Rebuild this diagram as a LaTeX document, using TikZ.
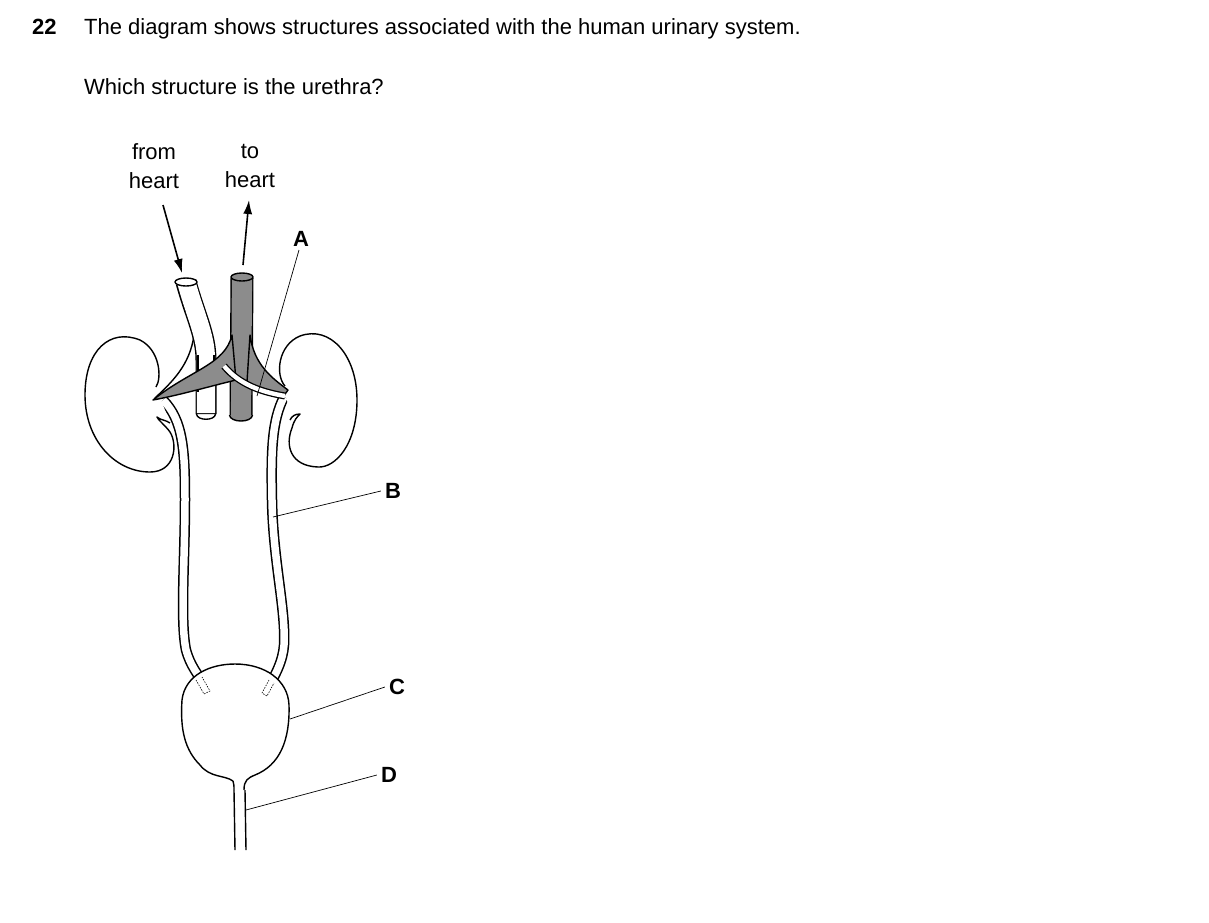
\documentclass[tikz,border=0pt]{standalone}
\usepackage{fontspec}
\setmainfont{Liberation Sans}
\usetikzlibrary{arrows.meta}
\begin{document}
\begin{tikzpicture}[x=1pt,y=-1pt,line join=round,
  txt/.style={font=\fontsize{22}{29}\selectfont, inner sep=0pt},
  lab/.style={font=\bfseries\fontsize{22}{26}\selectfont, inner sep=0pt},
  ol/.style={line width=1.4pt},
  lead/.style={line width=0.7pt},
  arr/.style={line width=1.6pt,-{Latex[length=14pt,width=9pt]}}]
\useasboundingbox (0,0) rectangle (1209,922);
\definecolor{vg}{gray}{0.55}
% texts
\node[txt,font=\bfseries\fontsize{22}{26}\selectfont,anchor=base west] (num) at (32,34) {22};
\node[txt,anchor=base west] (q1) at (84,34) {The diagram shows structures associated with the human urinary system.};
\node[txt,anchor=base west] (q2) at (84,94) {Which structure is the urethra?};
\node[txt,align=center] (fh) at (154,166) {from\\heart};
\node[txt,align=center] (th) at (250,166) {to\\heart};
\node[lab] (A) at (301,239) {A};
\node[lab] (B) at (393,491) {B};
\node[lab] (C) at (397,687) {C};
\node[lab] (D) at (389,775) {D};
% ureters
\foreach \p in {
  {(163,400) .. controls (183,420) and (185,450) .. (185,500) .. controls (185,560) and (180,620) .. (186,650) .. controls (190,665) and (198,675) .. (205,685)},
  {(284,397) .. controls (272,420) and (271,450) .. (272,500) .. controls (273,560) and (286,610) .. (284,645) .. controls (283,660) and (276,675) .. (266,690)}}{
  \draw[line width=10.5pt] \p;
  \draw[line width=7.5pt,white] \p;}
% kidneys
\draw[ol,fill=white] (156,387) .. controls (162,378) and (160,350) .. (140,340) .. controls (110,328) and (85,350) .. (85,395) .. controls (85,440) and (115,472) .. (150,472) .. controls (175,472) and (178,445) .. (170,432) .. controls (165,425) and (158,420) .. (157,417) .. controls (160,420) and (166,420) .. (170,423);
\draw[ol,fill=white] (285,386) .. controls (275,375) and (278,345) .. (300,336) .. controls (330,325) and (357,355) .. (357,400) .. controls (357,445) and (335,468) .. (318,467) .. controls (290,466) and (285,445) .. (292,428) .. controls (294,420) and (297,417) .. (300,414) .. controls (295,414) and (292,416) .. (290,420);
% artery left branch
\draw[ol,fill=white] (194,335) .. controls (190,365) and (172,382) .. (155,398) .. controls (180,390) and (200,380) .. (212,362) -- cycle;
% artery trunk
\draw[line width=21pt] (186,282) .. controls (195,315) and (206,335) .. (206,360) -- (206,414);
\draw[line width=18.2pt,white] (186,281) .. controls (195,315) and (206,335) .. (206,360) -- (206,413);
\draw[ol,fill=white] (186,282) ellipse (11 and 4);
\draw[ol] (196.5,414) .. controls (197,421) and (215,421) .. (215.5,414);
\draw[line width=1.2pt] (198,355) -- (198,392);
\draw[line width=1.2pt] (214,355) -- (214,378);
% vein trunk
\draw[line width=23pt] (242,278) -- (241,416);
\draw[line width=20.2pt,vg] (242,277) -- (241,415);
\draw[ol,fill=vg] (242,277) ellipse (11 and 4);
\draw[ol,fill=vg] (229.5,415) .. controls (230,423) and (252,423) .. (252.5,415);
% vein branches
\draw[ol,fill=vg] (232,335) .. controls (225,365) and (190,370) .. (153,400) .. controls (180,395) and (215,385) .. (236,380) -- cycle;
\draw[ol,fill=vg] (250,335) .. controls (254,365) and (272,378) .. (288,390) -- (283,397) .. controls (270,393) and (258,388) .. (247,382) -- cycle;
% artery right branch band
\draw[line width=7pt] (224,366) .. controls (240,385) and (262,392) .. (285,396);
\draw[line width=4.4pt,white] (224,366) .. controls (240,385) and (262,392) .. (285,396);
% urethra + bladder
\draw[ol] (234,790) -- (235,850) (245,790) -- (246,850);
\draw[ol,fill=white] (233,781) .. controls (225,775) and (210,778) .. (200,765) .. controls (185,750) and (180,730) .. (182,700) .. controls (185,675) and (210,664) .. (235,664) .. controls (265,664) and (288,680) .. (289,705) .. controls (290,740) and (280,765) .. (255,775) .. controls (248,778) and (244,780) .. (244,790);
\draw[white,line width=2pt] (235,784) -- (243,784);
\draw[ol] (233,781) .. controls (234,784) and (234,786) .. (234,790);
\draw[dashed,line width=0.6pt,dash pattern=on 1.5pt off 1.2pt] (196,680) -- (204,694) -- (210,691) -- (202,677);
\draw[dashed,line width=0.6pt,dash pattern=on 1.5pt off 1.2pt] (269,680) -- (262,693) -- (267,696) -- (274,683);
% arrows
\coordinate (a1s) at (163,205); \coordinate (a1e) at (182,273);
\coordinate (a2s) at (243,265); \coordinate (a2e) at (249,200);
\draw[arr] (a1s) -- (a1e);
\draw[arr] (a2s) -- (a2e);
% leader lines
\coordinate (ta) at (257,396); \coordinate (tb) at (273,517);
\coordinate (tc) at (290,719); \coordinate (td) at (246,810);
\draw[lead] (299,250) -- (ta);
\draw[lead] (B.west) ++(-4,0) -- (tb);
\draw[lead] (C.west) ++(-4,0) -- (tc);
\draw[lead] (D.west) ++(-4,0) -- (td);
\end{tikzpicture}
\end{document}
